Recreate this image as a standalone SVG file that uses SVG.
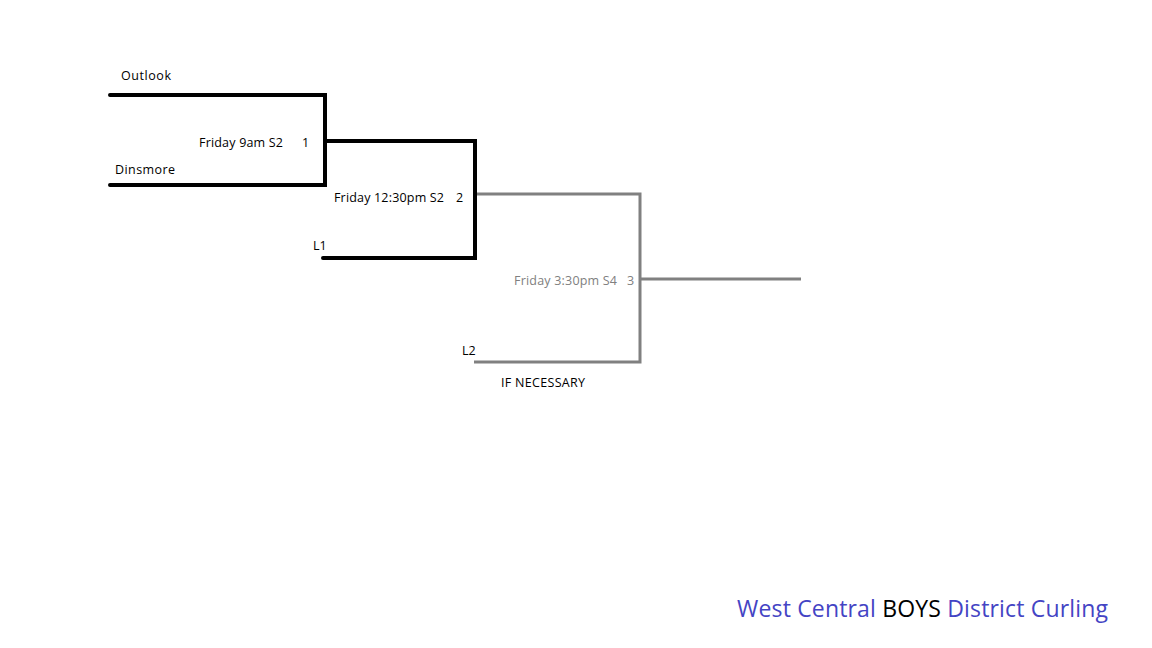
<svg xmlns="http://www.w3.org/2000/svg" width="1152" height="648" viewBox="0 0 1152 648">
<style>
.t{font-family:"Open Sans","Noto Sans",sans-serif;font-size:12.5px;fill:#000}
.g{fill:#808080}
.b{fill:none;stroke:#000;stroke-width:4;stroke-linecap:round;stroke-linejoin:miter}
.gl{fill:none;stroke:#808080;stroke-width:3;stroke-linejoin:miter}
.title{font-family:"Open Sans","Noto Sans",sans-serif;font-size:23px;fill:#4444c4}
</style>
<rect width="1152" height="648" fill="#fff"/>
<g id="connectors">
<polyline class="b" points="110,95 325,95 325,185 110,185"/>
<polyline class="b" points="325,141 475,141 475,258 323,258"/>
<polyline class="gl" points="477,194 640,194 640,362 474,362"/>
<line class="gl" x1="640" y1="279" x2="801" y2="279"/>
</g>
<g id="node-outlook"><text class="t" x="121" y="80" textLength="50">Outlook</text></g>
<g id="node-dinsmore"><text class="t" x="115" y="174" textLength="60">Dinsmore</text></g>
<g id="node-game1"><text class="t" x="199" y="147" textLength="84">Friday 9am S2</text><text class="t" x="302" y="147">1</text></g>
<g id="node-game2"><text class="t" x="334" y="202" textLength="110">Friday 12:30pm S2</text><text class="t" x="456" y="202">2</text></g>
<g id="node-l1"><text class="t" x="313" y="250">L1</text></g>
<g id="node-game3"><text class="t g" x="514" y="285" textLength="103">Friday 3:30pm S4</text><text class="t g" x="627" y="285">3</text></g>
<g id="node-l2"><text class="t" x="462" y="355">L2</text></g>
<g id="node-ifnec"><text class="t" x="501" y="387" textLength="84">IF NECESSARY</text></g>
<g id="title"><text class="title" x="737" y="617" textLength="371">West Central <tspan fill="#000">BOYS</tspan> District Curling</text></g>
</svg>
